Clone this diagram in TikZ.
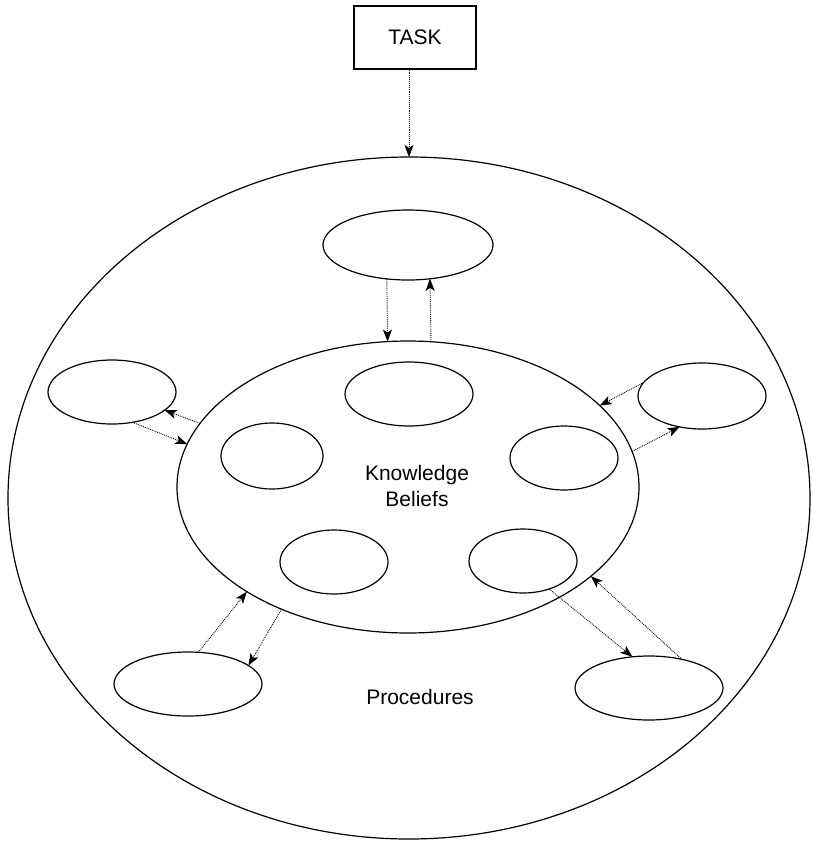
\documentclass[tikz,border=0pt]{standalone}
\usepackage{fontspec}
\setmainfont{Liberation Sans}
\usetikzlibrary{shapes.geometric,arrows.meta}
\begin{document}
\begin{tikzpicture}[x=1pt,y=-1pt,
  oval/.style={draw,ellipse,line width=1.2pt,inner sep=0pt,outer sep=0pt},
  arr/.style={densely dotted,line width=0.9pt,-{Stealth[length=12pt,width=9pt,inset=3pt]}},
  lbl/.style={font=\fontsize{21}{26}\selectfont,align=center}]
\useasboundingbox (0,0) rectangle (812,841);

% task box on top
\node[draw,line width=1.2pt,minimum width=122pt,minimum height=63pt,inner sep=0pt,
      font=\fontsize{21}{26}\selectfont] (task) at (415,37.5) {TASK};

% outer region (procedures) and inner region (knowledge, beliefs)
\node[oval,minimum width=802pt,minimum height=682pt] (outer) at (409,498) {};
\node[oval,minimum width=462pt,minimum height=292pt] (inner) at (408,487) {};

% ovals inside the inner region
\node[oval,minimum width=128pt,minimum height=64pt] (ktop) at (409,394) {};
\node[oval,minimum width=102pt,minimum height=66pt] (kleft) at (272,456) {};
\node[oval,minimum width=108pt,minimum height=64pt] (kright) at (564,458) {};
\node[oval,minimum width=108pt,minimum height=64pt] (kbl) at (334,562) {};
\node[oval,minimum width=108pt,minimum height=64pt] (kbr) at (523,561) {};

% ovals in the outer region
\node[oval,minimum width=170pt,minimum height=70pt] (ptop) at (408,245) {};
\node[oval,minimum width=128pt,minimum height=64pt] (pleft) at (112,392) {};
\node[oval,minimum width=128pt,minimum height=66pt] (pright) at (702,396) {};
\node[oval,minimum width=148pt,minimum height=64pt] (pbl) at (188,684) {};
\node[oval,minimum width=148pt,minimum height=64pt] (pbr) at (649,688) {};

% labels
\node[lbl] (kb) at (417,486) {Knowledge\\Beliefs};
\node[lbl] (proc) at (420,697) {Procedures};

% connectors
\draw[arr] (task.south -| outer.north) -- (outer.north);
\draw[arr] (ptop.238) -- (inner.98);
\draw[arr] (inner.81.4) -- (ptop.303);
\draw[arr] (inner.163) -- (pleft.341);
\draw[arr] (pleft.304) -- (inner.169.2);
\draw[arr] (pright.167.8) -- (inner.23.6);
\draw[arr] (inner.9.9) -- (pright.234);
\draw[arr] (pbl.72.6) -- (inner.213);
\draw[arr] (inner.224.8) -- (pbl.17.8);
\draw[arr] (kbr.313) -- (pbr.118.7);
\draw[arr] (pbr.41.4) -- (inner.334.8);
\end{tikzpicture}
\end{document}
